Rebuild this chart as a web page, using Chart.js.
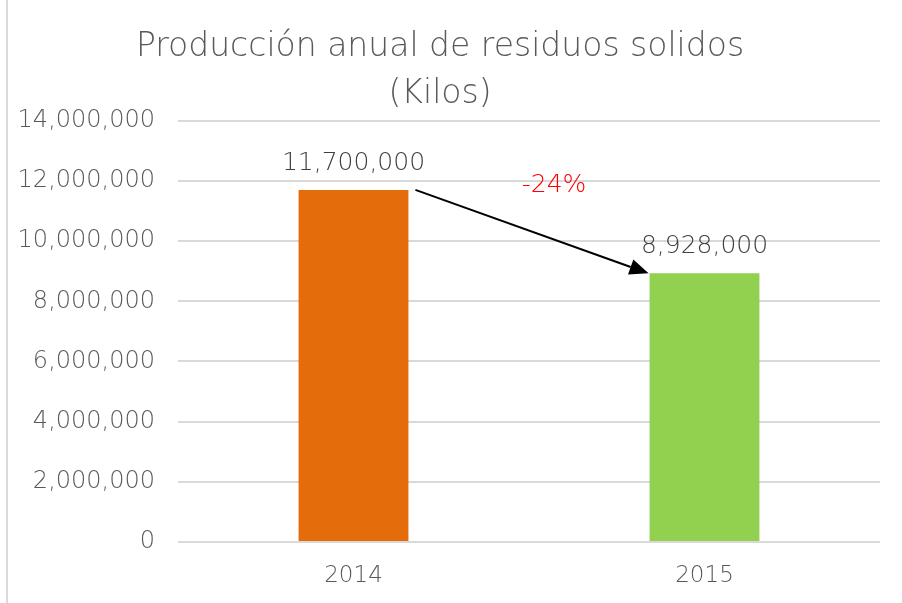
<!DOCTYPE html>
<html>
<head>
<meta charset="utf-8">
<script src="https://cdn.jsdelivr.net/npm/chart.js@4"></script>
<style>
  html, body { margin: 0; padding: 0; background: #fff; }
  canvas { display: block; }
</style>
</head>
<body>
<canvas id="residuos-chart" width="902" height="603"></canvas>
<script>
// datos
const categories = ['2014', '2015'];
const produccion = [11700000, 8928000];
const barColors = ['#E46C0A', '#92D050'];
const yRange = [0, 14000000];
const yStep = 2000000;
const titleLines = ['Producción anual de residuos solidos', '(Kilos)'];
const cambioLabel = '-24%';

const FONT = '"DejaVu Sans", sans-serif';
const fmt = v => Number(v).toLocaleString('en-US');

// borde izquierdo del marco
const frame = {
    id: 'frame',
    beforeDraw(chart) {
        const c = chart.ctx;
        c.save();
        c.strokeStyle = '#d9d9d9';
        c.lineWidth = 2;
        c.beginPath();
        c.moveTo(7, 0);
        c.lineTo(7, chart.height);
        c.stroke();
        c.restore();
    }
};

// etiquetas encima de las barras
const valueLabels = {
    id: 'valueLabels',
    afterDatasetsDraw(chart) {
        const c = chart.ctx;
        const meta = chart.getDatasetMeta(0);
        c.save();
        c.font = '300 25px ' + FONT;
        c.fillStyle = '#404040';
        c.textAlign = 'center';
        c.textBaseline = 'bottom';
        meta.data.forEach((bar, i) => {
            c.fillText(fmt(produccion[i]), bar.x, bar.y - 14);
        });
        c.restore();
    }
};

// flecha de variacion
const arrow = {
    id: 'arrow',
    afterDatasetsDraw(chart) {
        const c = chart.ctx;
        const meta = chart.getDatasetMeta(0);
        const b0 = meta.data[0], b1 = meta.data[1];
        const x0 = b0.x + b0.width / 2 + 7, y0 = b0.y;
        const x1 = b1.x - b1.width / 2 - 1, y1 = b1.y;
        const ang = Math.atan2(y1 - y0, x1 - x0);
        const len = 19, half = 8;
        c.save();
        c.strokeStyle = '#000';
        c.fillStyle = '#000';
        c.lineWidth = 2;
        c.beginPath();
        c.moveTo(x0, y0);
        c.lineTo(x1 - Math.cos(ang) * len, y1 - Math.sin(ang) * len);
        c.stroke();
        c.beginPath();
        c.moveTo(x1, y1);
        c.lineTo(x1 - Math.cos(ang) * len - Math.sin(ang) * half, y1 - Math.sin(ang) * len + Math.cos(ang) * half);
        c.lineTo(x1 - Math.cos(ang) * len + Math.sin(ang) * half, y1 - Math.sin(ang) * len - Math.cos(ang) * half);
        c.closePath();
        c.fill();
        c.font = '300 25px ' + FONT;
        c.fillStyle = '#FF0000';
        c.textAlign = 'center';
        c.textBaseline = 'middle';
        c.fillText(cambioLabel, (x0 + x1) / 2 + 22, y0 - 4);
        c.restore();
    }
};

new Chart(document.getElementById('residuos-chart'), {
    type: 'bar',
    data: {
        labels: categories,
        datasets: [{
            data: produccion,
            backgroundColor: barColors,
            borderWidth: 0,
            barPercentage: 0.313,
            categoryPercentage: 1
        }]
    },
    options: {
        responsive: false,
        animation: false,
        layout: { padding: { left: 0, right: 22, top: 0, bottom: 0 } },
        plugins: {
            legend: { display: false },
            tooltip: { enabled: false },
            title: {
                display: true,
                text: titleLines,
                color: '#595959',
                font: { family: FONT, size: 33, weight: '300', lineHeight: 1.42 },
                padding: { top: 24, bottom: 3 }
            }
        },
        scales: {
            x: {
                grid: { display: false, drawTicks: false },
                border: { display: false },
                ticks: { color: '#595959', font: { family: FONT, size: 23, weight: '300' }, padding: 20 },
                afterFit(scale) { scale.height = 61; }
            },
            y: {
                min: yRange[0],
                max: yRange[1],
                grid: { color: '#d9d9d9', lineWidth: 2, drawTicks: false },
                border: { display: false },
                ticks: {
                    stepSize: yStep,
                    color: '#595959',
                    font: { family: FONT, size: 24, weight: '300' },
                    padding: 23,
                    callback: v => fmt(v)
                },
                afterFit(scale) { scale.width = 178; }
            }
        }
    },
    plugins: [frame, valueLabels, arrow]
});
</script>
</body>
</html>
